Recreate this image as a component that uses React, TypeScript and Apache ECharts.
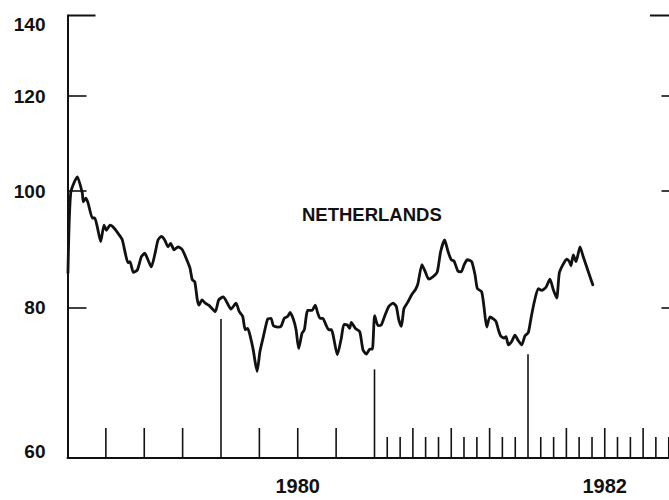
import { useEffect, useRef } from "react";
import * as echarts from "echarts";

// Decimal-year positions and index values of the NETHERLANDS series
const years = [
  1979.003, 1979.021, 1979.064, 1979.096, 1979.103, 1979.119, 1979.134, 1979.162, 1979.177, 1979.194,
  1979.216, 1979.238, 1979.253, 1979.277, 1979.303, 1979.336, 1979.357, 1979.379, 1979.394, 1979.407,
  1979.429, 1979.455, 1979.481, 1979.503, 1979.524, 1979.546, 1979.568, 1979.590, 1979.611, 1979.633,
  1979.655, 1979.672, 1979.694, 1979.720, 1979.748, 1979.777, 1979.798, 1979.813, 1979.829, 1979.846,
  1979.857, 1979.876, 1979.898, 1979.920, 1979.941, 1979.963, 1979.985, 1980.015, 1980.037, 1980.065,
  1980.098, 1980.119, 1980.141, 1980.158, 1980.174, 1980.191, 1980.210, 1980.235, 1980.254, 1980.276,
  1980.304, 1980.326, 1980.341, 1980.369, 1980.391, 1980.412, 1980.435, 1980.450, 1980.471, 1980.489,
  1980.506, 1980.528, 1980.543, 1980.565, 1980.593, 1980.614, 1980.630, 1980.645, 1980.663, 1980.684,
  1980.702, 1980.719, 1980.758, 1980.784, 1980.801, 1980.823, 1980.838, 1980.849, 1980.875, 1980.904,
  1980.925, 1980.947, 1980.969, 1980.986, 1981.001, 1981.023, 1981.044, 1981.066, 1981.093, 1981.121,
  1981.142, 1981.158, 1981.175, 1981.192, 1981.218, 1981.244, 1981.266, 1981.283, 1981.309, 1981.331,
  1981.353, 1981.381, 1981.409, 1981.431, 1981.457, 1981.479, 1981.500, 1981.518, 1981.544, 1981.565,
  1981.583, 1981.605, 1981.633, 1981.655, 1981.670, 1981.698, 1981.713, 1981.731, 1981.752, 1981.774,
  1981.792, 1981.807, 1981.822, 1981.844, 1981.857, 1981.872, 1981.894, 1981.915, 1981.937, 1981.959,
  1981.980, 1982.002, 1982.018, 1982.039, 1982.067, 1982.089, 1982.117, 1982.143, 1982.165, 1982.187,
  1982.204, 1982.226, 1982.252, 1982.269, 1982.280, 1982.295, 1982.313, 1982.339, 1982.360, 1982.393,
  1982.422,
];

const values = [
  85.5, 99.7, 102.8, 99.7, 98.0, 98.7, 97.8, 95.0, 95.0, 93.4,
  90.8, 93.7, 92.8, 93.7, 93.2, 92.0, 91.1, 88.5, 87.2, 87.4,
  85.6, 86.0, 88.2, 88.8, 87.7, 86.5, 88.5, 91.1, 91.7, 91.1,
  89.9, 90.5, 89.4, 89.9, 89.4, 87.7, 86.3, 84.4, 84.1, 81.2,
  80.4, 81.2, 80.7, 80.4, 79.9, 79.4, 81.2, 81.7, 80.9, 79.8,
  80.7, 79.4, 78.7, 76.7, 76.9, 75.7, 73.8, 70.8, 73.6, 75.7,
  78.3, 78.4, 77.3, 77.1, 77.2, 78.4, 78.7, 79.3, 78.3, 76.7,
  74.0, 76.2, 76.7, 79.6, 79.6, 80.4, 79.2, 78.4, 78.4, 77.4,
  76.7, 76.7, 73.1, 75.5, 77.5, 77.4, 76.9, 77.8, 76.9, 76.4,
  73.8, 73.2, 73.9, 73.9, 78.8, 77.3, 77.4, 78.7, 80.2, 80.7,
  80.2, 78.2, 77.2, 79.9, 80.9, 82.1, 82.8, 83.8, 86.9, 85.7,
  84.5, 84.9, 85.7, 89.1, 91.1, 89.1, 87.7, 87.5, 85.8, 85.7,
  86.8, 87.7, 87.4, 85.2, 83.0, 82.5, 80.2, 77.1, 78.6, 78.3,
  77.9, 76.7, 75.8, 75.5, 75.7, 74.5, 75.0, 75.9, 75.1, 74.5,
  75.8, 76.3, 78.2, 80.7, 83.0, 82.7, 83.2, 84.5, 82.8, 81.5,
  85.5, 86.8, 87.8, 87.4, 86.7, 88.5, 87.4, 89.9, 88.2, 85.7,
  83.6,
];

// Axes
const xMin = 1979;
const xMax = 1983;
const xLabelYears = [1980, 1982];
const yMin = 60;
const yMax = 140;
const yTickLabels = [60, 80, 100, 120, 140];
const yInnerTicks = [80, 100, 120];
const yTopTick = [140];

// Bottom tick marks
const quarterTicks = [
  1979.25, 1979.5, 1979.75, 1980.25, 1980.5, 1980.75,
  1981.25, 1981.5, 1981.75, 1982.25, 1982.5, 1982.75,
];
const monthTicks = [
  1981.083, 1981.167, 1981.333, 1981.417, 1981.583, 1981.667, 1981.833, 1981.917,
  1982.083, 1982.167, 1982.333, 1982.417, 1982.583, 1982.667, 1982.833, 1982.917,
];
const yearTicks = [1980, 1981, 1982];
const yearTickTops = [78.3, 71.1, 73.2];

const INK = "#111";
const FONT = "Liberation Sans";
const L = (v: number) => Math.log10(v);

export default function App() {
  const ref = useRef<HTMLDivElement>(null);

  useEffect(() => {
    if (!ref.current) return;
    const chart = echarts.init(ref.current, null, { renderer: "svg" });

    const vTick = (name: string, data: number[], len: number) => ({
      type: "custom",
      name,
      silent: true,
      clip: false,
      xAxisIndex: 0,
      yAxisIndex: 0,
      data: data.map((t) => [t, L(yMin)]),
      renderItem: (_p: any, api: any) => {
        const p = api.coord([api.value(0), api.value(1)]);
        return {
          type: "line",
          shape: { x1: p[0], y1: p[1], x2: p[0], y2: p[1] - len },
          style: { stroke: INK, lineWidth: 1.6 },
        };
      },
    });

    const option: any = {
      animation: false,
      grid: { left: 67.5, top: 15.5, width: 614, height: 442.5, outerBoundsMode: "none" },
      xAxis: {
        type: "value",
        min: xMin,
        max: xMax,
        axisLine: { show: true, onZero: false, lineStyle: { color: INK, width: 2 } },
        axisTick: { show: false },
        splitLine: { show: false },
        axisLabel: {
          customValues: xLabelYears.map((y) => y + 0.5),
          formatter: (v: number) => String(Math.floor(v)),
          color: INK,
          fontFamily: FONT,
          fontSize: 20,
          fontWeight: "bold",
          margin: 18,
        },
      },
      yAxis: [
        {
          type: "value",
          position: "left",
          min: L(yMin),
          max: L(yMax),
          axisLine: { show: true, onZero: false, lineStyle: { color: INK, width: 2 } },
          axisTick: {
            show: true,
            inside: true,
            length: 19,
            customValues: yInnerTicks.map(L),
            lineStyle: { color: INK, width: 1.6 },
          },
          splitLine: { show: false },
          axisLabel: {
            customValues: yTickLabels.map(L),
            formatter: (v: number) => {
              const n = Math.round(Math.pow(10, v));
              if (n === yMax) return "{top|" + n + "}";
              if (n === yMin) return "{bot|" + n + "}";
              return "{mid|" + n + "}";
            },
            margin: 22,
            color: INK,
            fontFamily: FONT,
            fontSize: 19,
            fontWeight: "bold",
            rich: {
              top: { fontFamily: FONT, fontSize: 19, fontWeight: "bold", color: INK, padding: [17, 0, 0, 0] },
              mid: { fontFamily: FONT, fontSize: 19, fontWeight: "bold", color: INK },
              bot: { fontFamily: FONT, fontSize: 19, fontWeight: "bold", color: INK, padding: [0, 0, 13, 0] },
            },
          },
        },
        {
          type: "value",
          position: "right",
          min: L(yMin),
          max: L(yMax),
          axisLine: { show: false },
          axisTick: {
            show: true,
            inside: true,
            length: 20,
            customValues: yInnerTicks.map(L),
            lineStyle: { color: INK, width: 1.6 },
          },
          splitLine: { show: false },
          axisLabel: { show: false },
        },
      ],
      graphic: [
        {
          type: "text",
          left: 302,
          top: 205,
          style: {
            text: "NETHERLANDS",
            fill: INK,
            font: `bold 18.5px "${FONT}"`,
          },
        },
      ],
      series: [
        vTick("quarterTicks", quarterTicks, 30),
        vTick("monthTicks", monthTicks, 21),
        {
          type: "custom",
          name: "yearTicks",
          silent: true,
          clip: false,
          data: yearTicks.map((t, i) => [t, L(yMin), L(yearTickTops[i])]),
          renderItem: (_p: any, api: any) => {
            const a = api.coord([api.value(0), api.value(1)]);
            const b = api.coord([api.value(0), api.value(2)]);
            return {
              type: "line",
              shape: { x1: a[0], y1: a[1], x2: b[0], y2: b[1] },
              style: { stroke: INK, lineWidth: 1.6 },
            };
          },
        },
        {
          type: "custom",
          name: "topTicks",
          silent: true,
          clip: false,
          data: yTopTick.flatMap((v) => [
            [xMin, L(v), 28],
            [xMax, L(v), -31.5],
          ]),
          renderItem: (_p: any, api: any) => {
            const a = api.coord([api.value(0), api.value(1)]);
            return {
              type: "line",
              shape: { x1: a[0], y1: a[1], x2: a[0] + api.value(2), y2: a[1] },
              style: { stroke: INK, lineWidth: 2 },
            };
          },
        },
        {
          type: "line",
          name: "NETHERLANDS",
          data: years.map((t, i) => [t, L(values[i])]),
          showSymbol: false,
          symbol: "none",
          clip: false,
          smooth: 0.2,
          lineStyle: { color: INK, width: 2.8, join: "round", cap: "round" },
        },
      ],
    };

    chart.setOption(option);
    return () => chart.dispose();
  }, []);

  return (
    <div
      ref={ref}
      style={{ position: "absolute", left: 0, top: 0, width: 669, height: 500 }}
    />
  );
}
